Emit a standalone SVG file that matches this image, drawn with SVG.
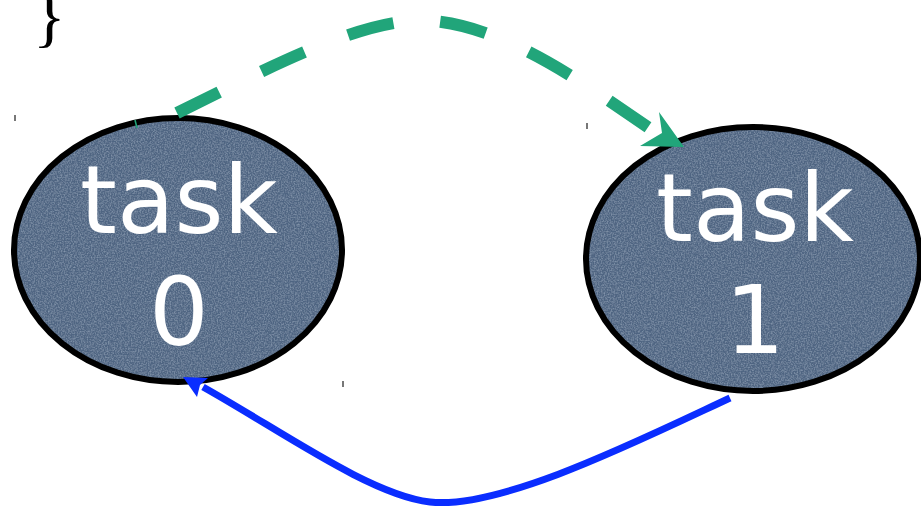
<svg xmlns="http://www.w3.org/2000/svg" width="921" height="507" viewBox="0 0 921 507">
  <style>
    .fill { fill: #4f6582; filter: url(#grain); }
    .rim { fill: none; stroke: #000; stroke-width: 6; }
    .label { font-family: "DejaVu Sans", "Noto Sans", sans-serif; font-size: 94px; fill: #fff; text-anchor: middle; }
    .tick { stroke: #777; stroke-width: 2; }
    .send { fill: none; stroke: #21a57a; stroke-width: 12; stroke-dasharray: 47 47; }
    .reply { fill: none; stroke: #0a2dff; stroke-width: 7; }
  </style>
  <defs>
    <!-- faint mottled texture on the task bubbles -->
    <filter id="grain" x="0" y="0" width="100%" height="100%">
      <feTurbulence type="fractalNoise" baseFrequency="0.7" numOctaves="2" seed="3" result="n"/>
      <feColorMatrix in="n" type="matrix" values="0 0 0 0 0.32  0 0 0 0 0.41  0 0 0 0 0.53  1.2 0 0 0 -0.45" result="a"/>
      <feComposite in="a" in2="SourceGraphic" operator="in" result="g"/>
      <feMerge><feMergeNode in="SourceGraphic"/><feMergeNode in="g"/></feMerge>
    </filter>
  </defs>
  <rect width="921" height="507" fill="#fff"/>

  <text x="33" y="39" font-family="Liberation Serif, serif" font-size="68" fill="#000">}</text>
  <line class="tick" x1="15" y1="115" x2="15" y2="121"/>
  <line class="tick" x1="587" y1="123" x2="587" y2="129"/>
  <line class="tick" x1="343" y1="381" x2="343" y2="387"/>

  <g id="task0">
    <ellipse class="fill" cx="178" cy="250" rx="164" ry="132"/>
    <ellipse class="rim" cx="178" cy="250" rx="164" ry="132"/>
    <text class="label" x="179" y="233">task</text>
    <text class="label" x="179" y="345">0</text>
  </g>

  <g id="task1">
    <ellipse class="fill" cx="753" cy="259" rx="167" ry="132"/>
    <ellipse class="rim" cx="753" cy="259" rx="167" ry="132"/>
    <text class="label" x="755" y="241">task</text>
    <text class="label" x="755" y="353">1</text>
  </g>

  <g id="connectors">
    <line x1="135" y1="120" x2="137" y2="128" stroke="#21a57a" stroke-width="1.5"/>
    <path class="send" d="M177,113 C 280,62 370,15 433,21 C 510,28 590,88 652,130"/>
    <polygon points="684,147 659,112 662,133 640,146" fill="#21a57a"/>
    <path class="reply" d="M730,398 C 640,440 500,510 430,502 C 370,495 280,430 203,387"/>
    <polygon points="183,377 208,378 200,385 197,397" fill="#0a2dff"/>
  </g>
</svg>
